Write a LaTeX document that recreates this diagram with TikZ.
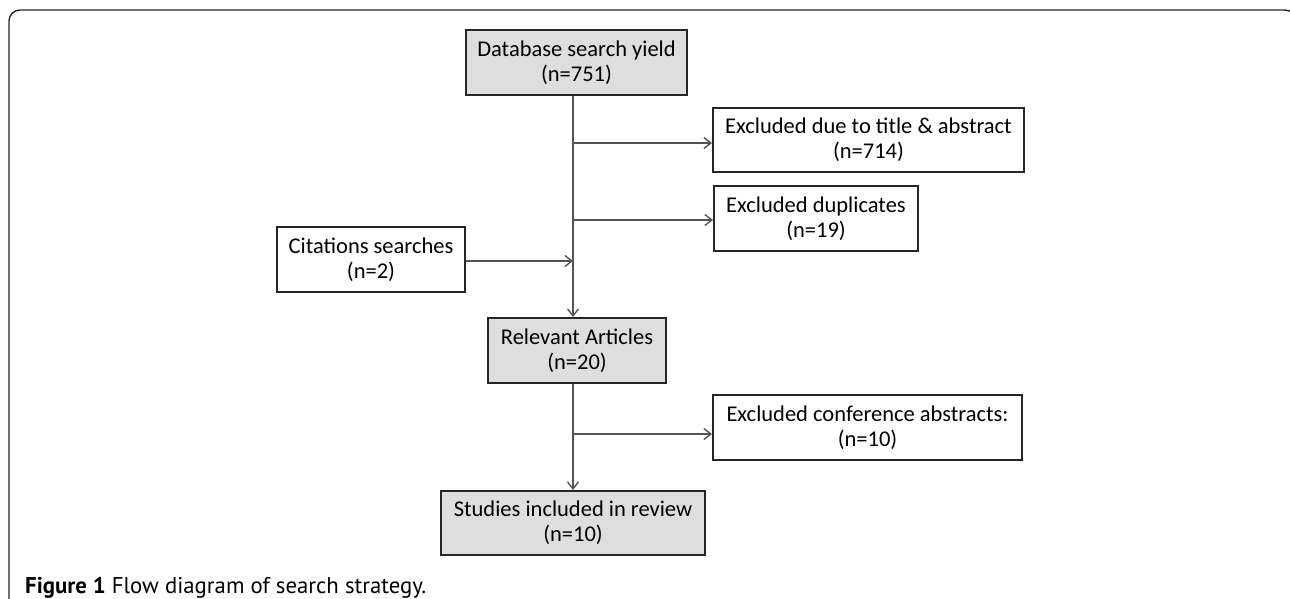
\documentclass[tikz,border=0pt]{standalone}
\usepackage{fontspec}
\setmainfont{Carlito}
\newfontfamily\capfont{PT Sans}
\usetikzlibrary{arrows.meta,positioning}
\definecolor{boxgray}{rgb}{0.87,0.87,0.87}
\definecolor{linegray}{rgb}{0.33,0.33,0.33}

\tikzset{
  box/.style={draw=black!85, line width=2pt, align=center, inner sep=0pt, font=\fontsize{22.5}{25}\selectfont},
  mainbox/.style={box, fill=boxgray},
  flow/.style={draw=linegray, line width=1.4pt, -{Straight Barb[length=7pt,width=11pt]}},
}

\begin{document}
\begin{tikzpicture}[x=1pt,y=-1pt]
            \useasboundingbox (0,0) rectangle (1290,599);
            \clip (0,0) rectangle (1290,599);
            % frame
            \draw[black!85, line width=1.4pt, rounded corners=11pt] (9,620) -- (9,10) -- (1296,10) -- (1296,620);

            % boxes
            \node[mainbox, minimum width=221, minimum height=65] (db) at (576.5,62.5) {Database search yield\\(n=751)};
            \node[box, minimum width=311, minimum height=64] (title) at (868.5,140) {Excluded due to title \& abstract\\(n=714)};
            \node[box, minimum width=204, minimum height=65] (dup) at (816,218.5) {Excluded duplicates\\(n=19)};
            \node[box, minimum width=188, minimum height=65] (cite) at (371,259.5) {Citations searches\\(n=2)};
            \node[mainbox, minimum width=178, minimum height=65] (rel) at (577,350.5) {Relevant Articles\\(n=20)};
            \node[box, minimum width=309, minimum height=65] (conf) at (867.5,427.5) {Excluded conference abstracts:\\(n=10)};
            \node[mainbox, minimum width=264, minimum height=64] (stud) at (573,523) {Studies included in review\\(n=10)};

            % branch points on the trunk
            \coordinate (t1) at (573,143);
            \coordinate (t2) at (573,220);
            \coordinate (t3) at (573,261);
            \coordinate (t4) at (573,434);

            \draw[flow] (db.south -| t1) -- (rel.north -| t1);
            \draw[flow] (rel.south -| t1) -- (stud.north -| t1);
            \draw[flow] (t1) -- (t1 -| title.west);
            \draw[flow] (t2) -- (t2 -| dup.west);
            \draw[flow] (cite.east |- t3) -- (t3);
            \draw[flow] (t4) -- (t4 -| conf.west);

            % caption
            \node[anchor=base west, inner sep=0pt, font=\capfont\fontsize{22.8}{24}\selectfont] (caption) at (25,593) {\textbf{Figure 1} Flow diagram of search strategy.};
\end{tikzpicture}
\end{document}
